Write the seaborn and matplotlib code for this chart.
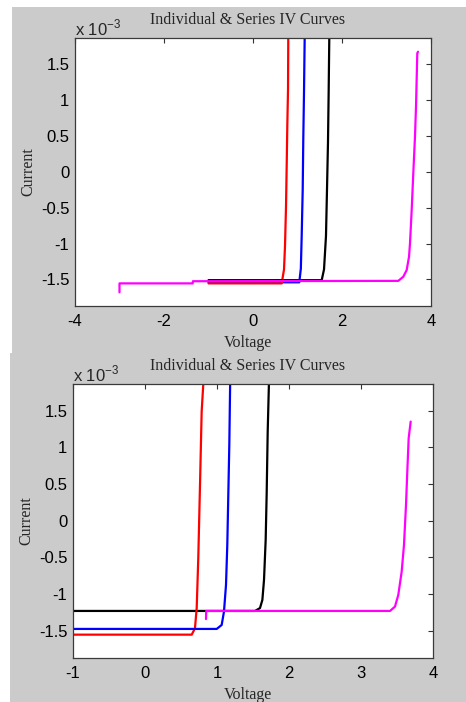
import matplotlib
matplotlib.use("Agg")
import matplotlib.pyplot as plt
from matplotlib.patches import Rectangle
from matplotlib.ticker import FuncFormatter, MultipleLocator
import pandas as pd
import seaborn as sns

# ---- Panel 1: individual cells and series string (current in units of 1e-3 A)
p1_red_v = [-1.0, 0.645, 0.697, 0.719, 0.742, 0.757, 0.771, 0.787, 0.793]
p1_red_i = [-1.555, -1.555, -1.36, -1.035, -0.48, 0.08, 0.64, 1.15, 1.90]
p1_blue_v = [-1.0, 1.04, 1.075, 1.094, 1.117, 1.13, 1.146, 1.162]
p1_blue_i = [-1.54, -1.54, -1.35, -0.90, -0.25, 0.45, 1.10, 1.90]
p1_black_v = [-1.0, 1.544, 1.596, 1.64, 1.663, 1.685, 1.70, 1.715]
p1_black_i = [-1.51, -1.51, -1.36, -0.896, -0.245, 0.404, 1.10, 1.90]
p1_mag_v = [-3.0, -3.0, -1.355, -1.35, 3.265, 3.378, 3.454, 3.506, 3.528,
            3.566, 3.602, 3.640, 3.663, 3.692, 3.708]
p1_mag_i = [-1.68, -1.555, -1.555, -1.525, -1.52, -1.462, -1.369, -1.184,
            -0.997, -0.533, -0.022, 0.487, 0.906, 1.649, 1.671]

# ---- Panel 2
p2_black_v = [-1.0, 1.528, 1.597, 1.63, 1.653, 1.676, 1.69, 1.704, 1.722]
p2_black_i = [-1.229, -1.229, -1.19, -1.08, -0.806, -0.26, 0.375, 1.21, 1.90]
p2_red_v = [-1.0, 0.649, 0.694, 0.718, 0.74, 0.764, 0.787, 0.812]
p2_red_i = [-1.552, -1.552, -1.465, -1.19, -0.51, 0.488, 1.487, 1.90]
p2_blue_v = [-1.0, 0.996, 1.065, 1.097, 1.125, 1.143, 1.157, 1.171, 1.183]
p2_blue_i = [-1.474, -1.474, -1.42, -1.238, -0.875, -0.33, 0.351, 1.033, 1.90]
p2_mag_v = [0.847, 0.85, 3.403, 3.472, 3.518, 3.565, 3.597, 3.625, 3.643,
            3.662, 3.69]
p2_mag_i = [-1.34, -1.229, -1.229, -1.17, -1.01, -0.693, -0.33, 0.215, 0.67,
            1.124, 1.35]

title_text = "Individual & Series IV Curves"
x_label = "Voltage"
y_label = "Current"
y_ticks = [-1.5, -1.0, -0.5, 0.0, 0.5, 1.0, 1.5]
colors = {"red": "#ff0000", "blue": "#0000ff", "black": "#000000", "magenta": "#ff00ff"}


def frame(curves):
    parts = []
    for name, v, i in curves:
        parts.append(pd.DataFrame({"voltage": v, "current": i, "curve": name}))
    return pd.concat(parts, ignore_index=True)


panel1 = frame([("blue", p1_blue_v, p1_blue_i), ("red", p1_red_v, p1_red_i),
                ("black", p1_black_v, p1_black_i), ("magenta", p1_mag_v, p1_mag_i)])
panel2 = frame([("black", p2_black_v, p2_black_i), ("red", p2_red_v, p2_red_i),
                ("blue", p2_blue_v, p2_blue_i), ("magenta", p2_mag_v, p2_mag_i)])

sns.set_style("white")
plt.rcParams["axes.unicode_minus"] = False
plt.rcParams["font.family"] = ["Liberation Sans", "DejaVu Sans"]

W, H = 466, 702
fig = plt.figure(figsize=(W / 100, H / 100), dpi=100, facecolor="white")

grey = "#cbcbcb"
fig.patches.append(Rectangle((12 / W, 1 - 353 / H), 454 / W, 346 / H,
                             transform=fig.transFigure, facecolor=grey,
                             edgecolor="none", zorder=-10))
fig.patches.append(Rectangle((10 / W, 0), 456 / W, 1 - 353 / H,
                             transform=fig.transFigure, facecolor=grey,
                             edgecolor="none", zorder=-10))

serif = ["Liberation Serif", "DejaVu Serif"]


def style_axes(ax, data, xlim, xstep, box):
    left, top, right, bottom = box
    ax.set_position([left / W, 1 - bottom / H, (right - left) / W, (bottom - top) / H])
    sns.lineplot(data=data, x="voltage", y="current", hue="curve",
                 palette=colors, sort=False, estimator=None, legend=False,
                 linewidth=1.6, ax=ax)
    ax.set_facecolor("white")
    ax.set_xlim(*xlim)
    ax.set_ylim(-1.87, 1.862)
    ax.xaxis.set_major_locator(MultipleLocator(xstep))
    ax.set_yticks(y_ticks)
    fmt = FuncFormatter(lambda v, pos: "%g" % v)
    ax.xaxis.set_major_formatter(fmt)
    ax.yaxis.set_major_formatter(fmt)
    ax.tick_params(direction="in", length=3.5, width=0.8, colors="#333333",
                   labelcolor="black", labelsize=12, top=True, right=True,
                   pad=4)
    ax.tick_params(axis="x", pad=6)
    for s in ax.spines.values():
        s.set_visible(True)
        s.set_color("#3a3a3a")
        s.set_linewidth(0.9)
    h = bottom - top
    wdt = right - left
    ax.set_xlabel("")
    ax.set_ylabel("")
    ax.text(0.5 - 5 / wdt, -37 / h, x_label, transform=ax.transAxes,
            ha="center", va="center", fontsize=11.5, family=serif)
    ax.text(-47 / wdt, 0.5, y_label, transform=ax.transAxes, rotation=90,
            ha="center", va="center", fontsize=11.5, family=serif)
    ax.text(0.5 - 5 / wdt, 1 + 18 / h, title_text, transform=ax.transAxes,
            ha="center", va="center", fontsize=11.5, family=serif)
    ax.text(0.0, 1 + 10 / h, r"x 10$^{\mathregular{-3}}$", transform=ax.transAxes,
            ha="left", va="center", fontsize=12)


ax1 = fig.add_axes([0, 0, 1, 1])
style_axes(ax1, panel1, (-4, 4), 2, (75, 38, 431, 306))
ax2 = fig.add_axes([0, 0, 1, 1])
style_axes(ax2, panel2, (-1, 4), 1, (73, 384, 433, 658))

fig.savefig("out.png", dpi=100, facecolor="white")
